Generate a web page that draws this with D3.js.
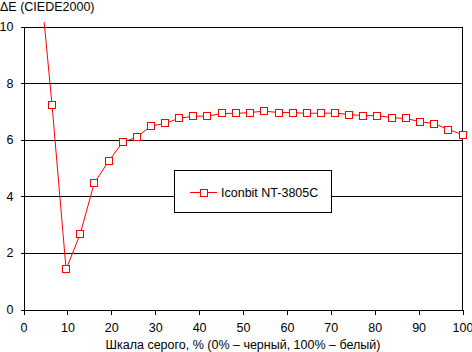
<!DOCTYPE html>
<html>
<head>
<meta charset="utf-8">
<script src="https://cdn.jsdelivr.net/npm/d3@7"></script>
<style>
  html, body { margin: 0; padding: 0; background: #fff; }
  svg { display: block; font-family: "Liberation Sans", Arial, sans-serif; }
</style>
</head>
<body>
<svg id="chart" width="472" height="352"></svg>
<script>
// gray level, % and measured deltaE for each step
const grayLevels = [3.2, 6.5, 9.7, 12.9, 16.1, 19.4, 22.6, 25.8, 29.0, 32.3, 35.5, 38.7, 41.9, 45.2, 48.4, 51.6,
  54.8, 58.1, 61.3, 64.5, 67.7, 71.0, 74.2, 77.4, 80.6, 83.9, 87.1, 90.3, 93.5, 96.8, 100];
const deltaE = [12.6, 7.23, 1.42, 2.66, 4.46, 5.24, 5.91, 6.09, 6.48, 6.58, 6.76, 6.83, 6.83, 6.93, 6.93, 6.96,
  7.01, 6.96, 6.96, 6.93, 6.94, 6.94, 6.89, 6.85, 6.85, 6.78, 6.75, 6.64, 6.57, 6.36, 6.18];
const xTicks = [0, 10, 20, 30, 40, 50, 60, 70, 80, 90, 100];
const yTicks = [0, 2, 4, 6, 8, 10];
const seriesName = 'Iconbit NT-3805C';
const yTitle = 'ΔE (CIEDE2000)';
const xTitle = 'Шкала серого, % (0% – черный, 100% – белый)';

const svg = d3.select('#chart');
const x = d3.scaleLinear().domain([0, 100]).range([23.5, 462.5]);
const y = d3.scaleLinear().domain([0, 10]).range([309.5, 26.5]);
const FS = '12.5px';

// y axis with gridlines
const gy = svg.append('g').attr('transform', `translate(${x(0)},0)`)
  .call(d3.axisLeft(y).tickValues(yTicks).tickSizeInner(3).tickSizeOuter(0).tickPadding(7));
gy.selectAll('.tick').append('line').attr('x1', 0).attr('x2', x(100) - x(0)).attr('stroke', '#000');
gy.selectAll('text').attr('font-size', FS).attr('font-family', null).attr('fill', '#000');
gy.select('.domain').attr('stroke', '#000');

// x axis
const gx = svg.append('g').attr('transform', `translate(0,${y(0)})`)
  .call(d3.axisBottom(x).tickValues(xTicks).tickSizeInner(5).tickSizeOuter(0).tickPadding(9));
gx.selectAll('text').attr('font-size', FS).attr('font-family', null).attr('fill', '#000');

// right border
svg.append('line').attr('x1', x(100)).attr('x2', x(100)).attr('y1', y(10)).attr('y2', y(0)).attr('stroke', '#000');

svg.selectAll('line, path.domain').attr('shape-rendering', 'crispEdges');

// series
svg.append('clipPath').attr('id', 'clip').append('rect')
  .attr('x', x(0)).attr('y', 22).attr('width', x(100) - x(0) + 1).attr('height', y(0) - 22);
const pts = grayLevels.map((g, i) => [g, deltaE[i]]);
svg.append('path').datum(pts).attr('clip-path', 'url(#clip)')
  .attr('d', d3.line().x(d => x(d[0])).y(d => y(d[1])))
  .attr('fill', 'none').attr('stroke', '#ff0000').attr('stroke-width', 1);
svg.selectAll('rect.m').data(pts.filter(d => d[1] <= 10)).enter().append('rect').attr('class', 'm')
  .attr('x', d => Math.round(x(d[0])) - 3.5).attr('y', d => Math.round(y(d[1])) - 3.5)
  .attr('width', 7).attr('height', 7)
  .attr('fill', '#fff').attr('stroke', '#ff0000').attr('shape-rendering', 'crispEdges');

// legend
const lg = svg.append('g');
lg.append('rect').attr('x', 174.5).attr('y', 170.5).attr('width', 157).attr('height', 42)
  .attr('fill', '#fff').attr('stroke', '#000').attr('shape-rendering', 'crispEdges');
lg.append('line').attr('x1', 190).attr('x2', 217).attr('y1', 192.5).attr('y2', 192.5)
  .attr('stroke', '#ff0000').attr('shape-rendering', 'crispEdges');
lg.append('rect').attr('x', 200.5).attr('y', 189.5).attr('width', 7).attr('height', 7)
  .attr('fill', '#fff').attr('stroke', '#ff0000').attr('shape-rendering', 'crispEdges');
lg.append('text').attr('x', 221).attr('y', 197).attr('font-size', FS).text(seriesName);

// titles
svg.append('text').attr('x', 0).attr('y', 11).attr('font-size', FS).text(yTitle);
svg.append('text').attr('x', (x(0) + x(100)) / 2).attr('y', 349).attr('text-anchor', 'middle')
  .attr('font-size', FS).text(xTitle);
</script>
</body>
</html>
